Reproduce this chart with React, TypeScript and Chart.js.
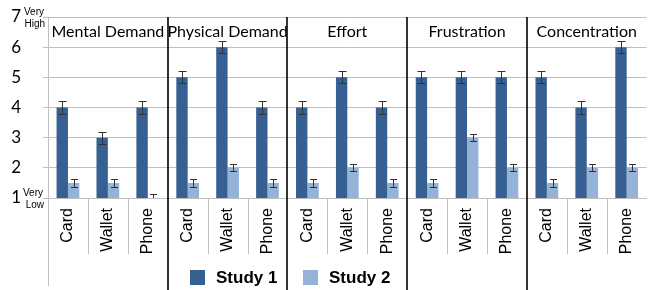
import React, { useEffect, useRef } from 'react';
import { Chart, registerables } from 'chart.js';

Chart.register(...registerables);

const groups = ['Mental Demand', 'Physical Demand', 'Effort', 'Frustration', 'Concentration'];
const devices = ['Card', 'Wallet', 'Phone'];
const seriesNames = ['Study 1', 'Study 2'];
const study1 = [4, 3, 4, 5, 6, 4, 4, 5, 4, 5, 5, 5, 5, 4, 6];
const study2 = [1.5, 1.5, 1, 1.5, 2, 1.5, 1.5, 2, 1.5, 1.5, 3, 2, 1.5, 2, 2];
const err1 = [0.2, 0.2, 0.2, 0.2, 0.2, 0.2, 0.2, 0.2, 0.2, 0.2, 0.2, 0.2, 0.2, 0.2, 0.2];
const err2 = [0.12, 0.12, 0.12, 0.12, 0.12, 0.12, 0.12, 0.12, 0.12, 0.12, 0.12, 0.12, 0.12, 0.12, 0.12];
const yMin = 1;
const yMax = 7;
const topLabel = ['Very', 'High'];
const bottomLabel = ['Very', 'Low'];

const DARK = '#366092';
const LIGHT = '#95B3D7';
const GRID = '#bfbfbf';

const labels: string[] = [];
groups.forEach(() => devices.forEach((d) => labels.push(d)));

const overlayPlugin = {
  id: 'overlay',
  afterDatasetsDraw(chart: any) {
    const { ctx, chartArea: ca, scales } = chart;
    const y = scales.y;
    const errs = [err1, err2];
    const caps = [4, 3.5];
    ctx.save();
    ctx.strokeStyle = '#333';
    ctx.lineWidth = 1;
    chart.data.datasets.forEach((ds: any, di: number) => {
      const meta = chart.getDatasetMeta(di);
      meta.data.forEach((el: any, i: number) => {
        const v = ds.data[i];
        const e = errs[di][i];
        const x = Math.round(el.x) + 0.5;
        const yt = Math.round(y.getPixelForValue(v + e)) + 0.5;
        const yb = Math.min(Math.round(y.getPixelForValue(v - e)) + 0.5, ca.bottom);
        ctx.beginPath();
        ctx.moveTo(x, yt);
        ctx.lineTo(x, yb);
        ctx.moveTo(x - caps[di], yt);
        ctx.lineTo(x + caps[di], yt);
        if (v - e >= yMin) {
          ctx.moveTo(x - caps[di], yb);
          ctx.lineTo(x + caps[di], yb);
        }
        ctx.stroke();
      });
    });
    ctx.restore();
  },
  afterDraw(chart: any) {
    const { ctx, chartArea: ca, scales } = chart;
    const x = scales.x;
    const y = scales.y;
    const H = chart.height;
    const boundary = (i: number) => (x.getPixelForValue(i - 1) + x.getPixelForValue(i)) / 2;
    ctx.save();
    ctx.strokeStyle = GRID;
    ctx.lineWidth = 1;
    ctx.beginPath();
    ctx.moveTo(Math.round(ca.left) + 0.5, ca.top);
    ctx.lineTo(Math.round(ca.left) + 0.5, 286);
    ctx.stroke();
    for (let i = 1; i < labels.length; i++) {
      if (i % devices.length === 0) continue;
      const bx = Math.round(boundary(i)) + 0.5;
      ctx.beginPath();
      ctx.moveTo(bx, ca.bottom);
      ctx.lineTo(bx, 254);
      ctx.stroke();
    }
    ctx.strokeStyle = '#000';
    ctx.lineWidth = 1.6;
    for (let g = 1; g < groups.length; g++) {
      const bx = Math.round(boundary(g * devices.length));
      ctx.beginPath();
      ctx.moveTo(bx, ca.top);
      ctx.lineTo(bx, H);
      ctx.stroke();
    }
    ctx.fillStyle = '#000';
    ctx.font = '16px Lato';
    ctx.textAlign = 'center';
    ctx.textBaseline = 'middle';
    groups.forEach((g, gi) => {
      const cx = (x.getPixelForValue(gi * 3) + x.getPixelForValue(gi * 3 + 2)) / 2;
      ctx.fillText(g, cx, 32);
    });
    ctx.font = '10px "Liberation Sans"';
    ctx.textAlign = 'right';
    const yt = y.getPixelForValue(yMax);
    const yb = y.getPixelForValue(yMin);
    ctx.fillText(topLabel[0], 44, yt - 5);
    ctx.fillText(topLabel[1], 45, yt + 7);
    ctx.fillText(bottomLabel[0], 43, yb - 5);
    ctx.fillText(bottomLabel[1], 44, yb + 7);
    const legendX = [190, 303];
    const cols = [DARK, LIGHT];
    ctx.font = 'bold 17px "Liberation Sans"';
    ctx.textAlign = 'left';
    seriesNames.forEach((n, i) => {
      ctx.fillStyle = cols[i];
      ctx.fillRect(legendX[i], 270, 15, 15);
      ctx.fillStyle = '#000';
      ctx.fillText(n, legendX[i] + 26, 278);
    });
    ctx.restore();
  },
};

export default function App() {
  const ref = useRef<HTMLCanvasElement | null>(null);
  useEffect(() => {
    if (!ref.current) return;
    const chart = new Chart(ref.current, {
      type: 'bar',
      data: {
        labels,
        datasets: [
          { label: seriesNames[0], data: study1, backgroundColor: DARK, categoryPercentage: 0.57, barPercentage: 1 },
          { label: seriesNames[1], data: study2, backgroundColor: LIGHT, categoryPercentage: 0.57, barPercentage: 1 },
        ],
      },
      options: {
        responsive: false,
        animation: false,
        layout: { padding: { top: 17, right: 4, left: 0, bottom: 0 } },
        plugins: { legend: { display: false }, tooltip: { enabled: false } },
        scales: {
          x: {
            grid: { display: false, drawTicks: false },
            border: { display: true, color: GRID },
            ticks: {
              autoSkip: false,
              maxRotation: 90,
              minRotation: 90,
              padding: 10,
              color: '#000',
              font: { family: '"Liberation Sans"', size: 16 },
            },
            afterFit: (s: any) => { s.height = 92; },
          },
          y: {
            min: yMin,
            max: yMax,
            grid: { color: GRID, tickLength: 5 },
            border: { display: true, color: GRID },
            ticks: {
              stepSize: 1,
              padding: 22,
              color: '#000',
              font: { family: 'Lato', size: 17 },
            },
            afterFit: (s: any) => { s.width = 48; s.paddingTop = 0; s.paddingBottom = 0; },
          },
        },
      },
      plugins: [overlayPlugin],
    });
    return () => chart.destroy();
  }, []);
  return (
    <div style={{ position: 'absolute', left: 0, top: 0, width: 656, height: 290 }}>
      <canvas ref={ref} width={656} height={290} style={{ display: 'block' }} />
    </div>
  );
}
